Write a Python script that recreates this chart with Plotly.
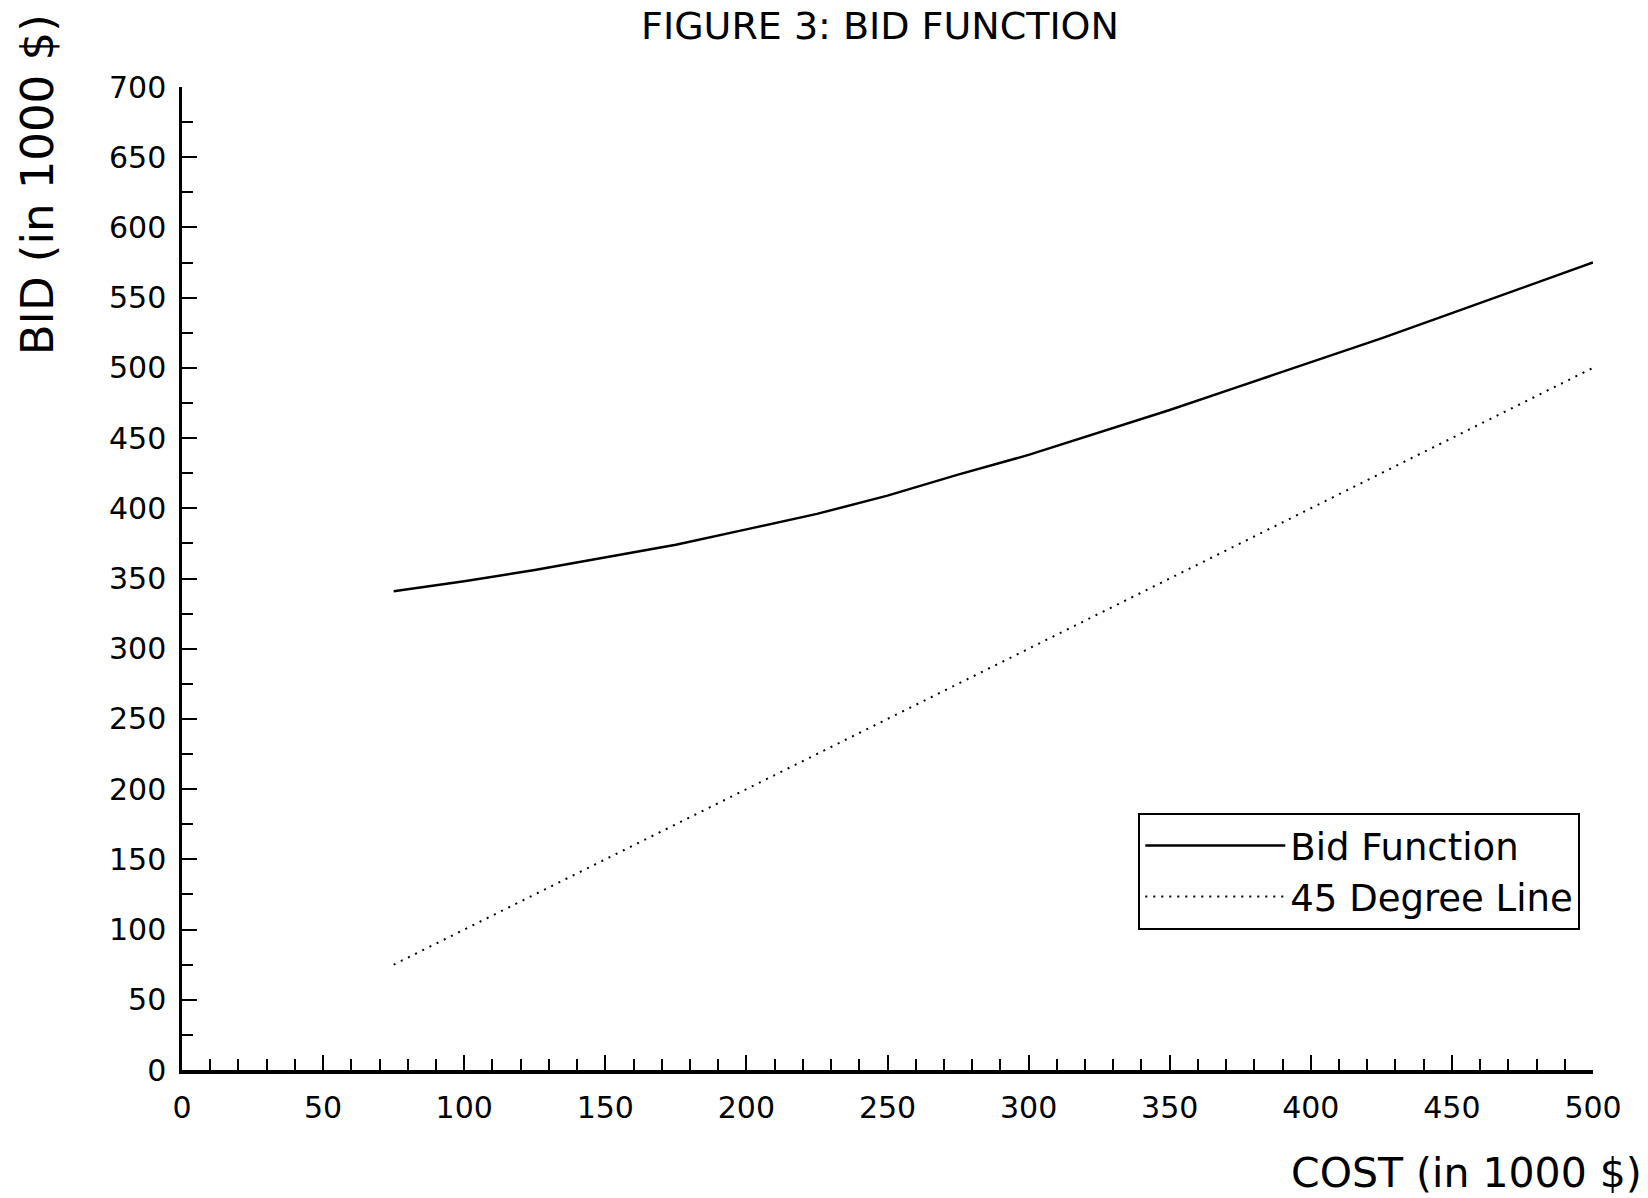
import plotly.graph_objects as go

# ---- data ----
cost_bid = [75, 100, 125, 150, 175, 200, 225, 250, 275, 300, 325, 350, 375, 400, 425, 450, 475, 500]
bid_values = [341, 348, 356, 365, 374, 385, 396, 409, 424, 438, 454, 470, 487, 504, 521, 539, 557, 575]
cost_45 = [75, 500]
line_45 = [75, 500]

x_ticks = [0, 50, 100, 150, 200, 250, 300, 350, 400, 450, 500]
y_ticks = [0, 50, 100, 150, 200, 250, 300, 350, 400, 450, 500, 550, 600, 650, 700]

FONT = "DejaVu Sans"

fig = go.Figure()
fig.add_trace(go.Scatter(
    x=cost_bid, y=bid_values, mode="lines", name="Bid Function",
    line=dict(color="black", width=2.5), legendgroup="a",
))
fig.add_trace(go.Scatter(
    x=cost_45, y=line_45, mode="lines", name="45 Degree Line",
    line=dict(color="black", width=2, dash="2px,6px"), legendgroup="b",
))

fig.update_layout(
    width=1648, height=1198,
    margin=dict(l=182, r=55, t=87, b=128, autoexpand=False),
    paper_bgcolor="white", plot_bgcolor="white",
    font=dict(family=FONT, size=30, color="black"),
    title=dict(text="FIGURE 3: BID FUNCTION", x=0.534, xanchor="center",
               xref="container", y=1 - 26 / 1198, yanchor="middle", yref="container",
               font=dict(family=FONT, size=38, color="black")),
    showlegend=True,
    legend=dict(x=0.991, y=0.202, xanchor="right", yanchor="middle",
                bgcolor="white", bordercolor="black", borderwidth=2,
                font=dict(family=FONT, size=37, color="black"),
                itemwidth=140, tracegroupgap=0),
    xaxis=dict(range=[0, 500], tickmode="array", tickvals=x_ticks,
               ticks="inside", ticklen=15, tickwidth=2, tickcolor="black",
               minor=dict(dtick=10, ticks="inside", ticklen=11, tickwidth=2, tickcolor="black"),
               showline=True, linecolor="black", linewidth=4,
               showgrid=False, zeroline=False, ticklabelstandoff=8,
               tickfont=dict(family=FONT, size=30, color="black")),
    yaxis=dict(range=[0, 700], tickmode="array", tickvals=y_ticks,
               ticks="inside", ticklen=15, tickwidth=2, tickcolor="black",
               minor=dict(dtick=25, ticks="inside", ticklen=11, tickwidth=2, tickcolor="black"),
               showline=True, linecolor="black", linewidth=2.5,
               showgrid=False, zeroline=False, ticklabelstandoff=7,
               tickfont=dict(family=FONT, size=30, color="black")),
    annotations=[
        dict(text="BID (in 1000 $)", textangle=-90, xref="paper", yref="paper",
             x=-0.1028, y=0.901, xanchor="center", yanchor="middle", showarrow=False,
             font=dict(family=FONT, size=45, color="black")),
        dict(text="COST (in 1000 $)", xref="paper", yref="paper",
             x=1.036, y=-0.1045, xanchor="right", yanchor="middle", showarrow=False,
             font=dict(family=FONT, size=41, color="black")),
    ],
)

fig.write_html("out.html", config={"displayModeBar": False},
               post_script="document.body.style.margin='0';document.body.style.padding='0';")
